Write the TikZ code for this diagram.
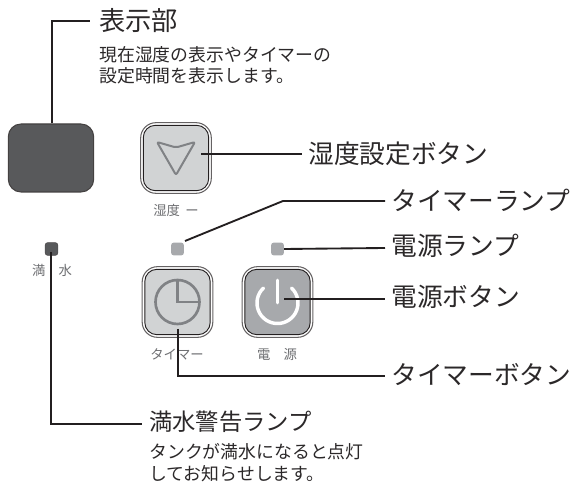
\documentclass[tikz,border=0pt]{standalone}
\usepackage{fontspec}
\setmainfont{Noto Sans CJK JP}
\definecolor{ink}{HTML}{231F20}
\definecolor{txt}{HTML}{2B2829}
\definecolor{lab}{HTML}{6D6E71}
\definecolor{dispfill}{HTML}{58595B}
\definecolor{btnlight}{HTML}{D1D3D4}
\definecolor{btndark}{HTML}{A7A9AC}
\definecolor{icon}{HTML}{808285}
\definecolor{lampoff}{HTML}{A7A9AC}
\tikzset{
  x=0.75pt,y=-0.75pt,
  leader/.style={draw=ink,line width=1.4pt,line join=miter},
  btnouter/.style={draw=ink!70,line width=0.8pt,rounded corners=11.5pt,minimum width=53pt,minimum height=53pt,inner sep=0pt},
  btninner/.style={draw=ink,line width=0.7pt,rounded corners=9pt,minimum width=49pt,minimum height=49pt,inner sep=0pt},
  lamp/.style={rounded corners=2pt,minimum width=9.6pt,minimum height=9.6pt,inner sep=0pt},
  titlebase/.style={anchor=west,inner sep=0pt,text=txt},
  bigt/.style={titlebase,text height=16.9pt,text depth=2.8pt,font=\fontsize{19.7pt}{22pt}\selectfont},
  midt/.style={titlebase,text height=16.6pt,text depth=2.7pt,font=\fontsize{19.3pt}{22pt}\selectfont},
  lowt/.style={titlebase,text height=15pt,text depth=2.5pt,font=\fontsize{17.5pt}{20pt}\selectfont},
  smallt/.style={titlebase,text height=11.5pt,text depth=1.9pt,font=\fontsize{13.4pt}{16pt}\selectfont},
  keylab/.style={inner sep=0pt,text=lab,text height=8.6pt,text depth=1.4pt,font=\fontsize{10pt}{12pt}\selectfont},
}
\begin{document}
\begin{tikzpicture}
\useasboundingbox (0,0) rectangle (572,484);
% display
\node[draw=ink!85,fill=dispfill,line width=0.8pt,rounded corners=9.5pt,minimum width=64pt,minimum height=51pt,inner sep=0pt] (disp) at (51,158) {};
% humidity button
\node[btnouter,fill=white] (hb) at (176,158) {};
\node[btninner,fill=btnlight] (hbi) at (176,158) {};
\draw[icon,line width=1.5pt,line join=round,rounded corners=1.5pt] (157,142) -- (176,147.5) -- (195,142) -- (176,175) -- cycle;
% timer button
\node[btnouter,fill=white] (tb) at (177.5,302) {};
\node[btninner,fill=btnlight] (tbi) at (177.5,302) {};
\draw[icon,line width=2pt] (177.5,302) circle[radius=22];
\draw[icon,line width=2pt] (177.5,280) -- (177.5,302) -- (199.5,302);
% power button
\node[btnouter,fill=white] (pb) at (277.5,302) {};
\node[btninner,fill=btndark] (pbi) at (277.5,302) {};
\draw[white,line width=2.2pt,line cap=round] (277.5,280) -- (277.5,303);
\draw[white,line width=2.6pt,line cap=round] plot[domain=-47:227,samples=50,smooth] ({277.5+20.5*cos(\x)},{303+20.5*sin(\x)});
% lamps
\node[lamp,fill=dispfill,draw=ink!80,line width=0.4pt] (fl) at (51.5,249) {};
\node[lamp,fill=lampoff] (tl) at (177.5,249) {};
\node[lamp,fill=lampoff] (pl) at (277.5,249) {};
% key labels
\node[keylab] (l1) at (176,211) {湿度\hspace{0.4em}ー};
\node[keylab] (l2) at (177,355) {タイマー};
\node[keylab] (l3) at (277,355) {電\hspace{1em}源};
\node[keylab] (l4) at (52,271) {満\hspace{1em}水};
% titles
\node[bigt] (t1) at (99,21) {表示部};
\node[smallt] (d1) at (99,55) {現在湿度の表示やタイマーの};
\node[smallt] (d2) at (99,76) {設定時間を表示します。};
\node[midt] (t2) at (308,154.5) {湿度設定ボタン};
\node[midt] (t3) at (391,201) {タイマーランプ};
\node[midt] (t4) at (391,246.5) {電源ランプ};
\node[midt] (t5) at (391,297.5) {電源ボタン};
\node[midt] (t6) at (391,375) {タイマーボタン};
\node[lowt] (t7) at (149,422.5) {満水警告ランプ};
\node[smallt] (d3) at (149,452) {タンクが満水になると点灯};
\node[smallt] (d4) at (149,474) {してお知らせします。};
% leaders
\coordinate (c1) at (201,154);
\coordinate (c2) at (185,241);
\coordinate (c3) at (283,201);
\coordinate (c4) at (284,299);
\coordinate (c5) at (178,329);
\coordinate (e2) at (302,154);
\coordinate (e3) at (385,201);
\coordinate (e4) at (385,248);
\coordinate (e5) at (385,299);
\coordinate (e6) at (385,376);
\coordinate (e7) at (142,424);
\coordinate (e1) at (90,21);
\draw[leader] (disp.north -| 52,0) -- (52,21) -- (e1);
\draw[leader] (c1) -- (e2);
\draw[leader] (c2) -- (c3) -- (e3);
\draw[leader] (pl.east) -- (e4);
\draw[leader] (c4) -- (e5);
\draw[leader] (c5) -- (178,376) -- (e6);
\draw[leader] (51,252) -- (51,424) -- (e7);
\end{tikzpicture}
\end{document}
